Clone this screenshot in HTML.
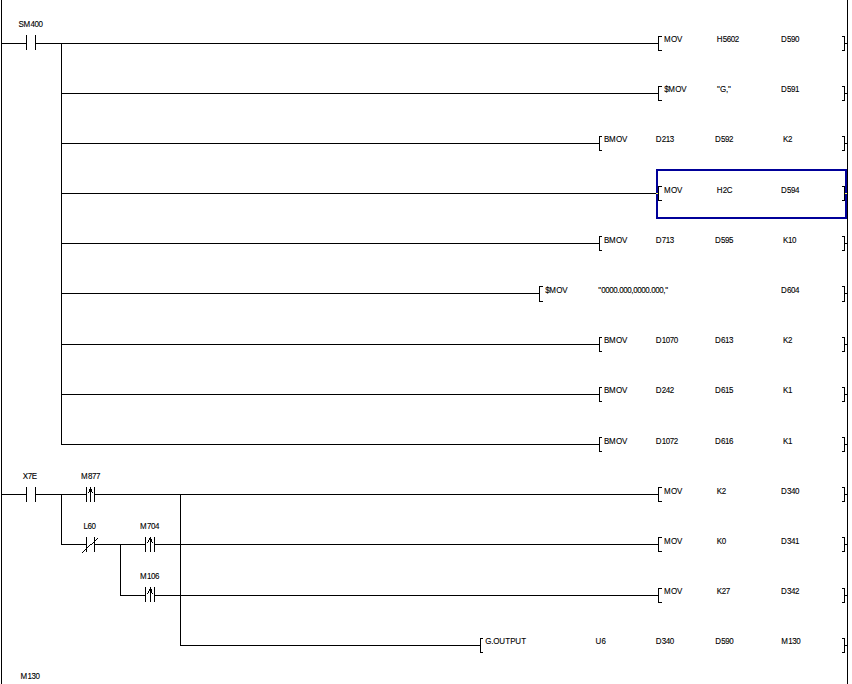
<!DOCTYPE html>
<html lang="en"><head><meta charset="utf-8"><title>Ladder</title>
<style>
html,body{margin:0;padding:0;background:#fff;}
body{width:852px;height:684px;overflow:hidden;}
svg{display:block;}
text{font-family:"Liberation Sans",sans-serif;font-size:8px;fill:#000;stroke:#000;stroke-width:0.1px;}
</style></head><body>
<svg width="852" height="684" viewBox="0 0 852 684">
<g shape-rendering="crispEdges">
<rect x="1" y="0" width="1" height="684" fill="#000"/>
<rect x="847" y="0" width="1" height="684" fill="#000"/>
<rect x="658" y="36" width="1" height="15" fill="#000"/>
<rect x="658" y="36" width="4" height="1" fill="#000"/>
<rect x="658" y="50" width="4" height="1" fill="#000"/>
<rect x="844" y="36" width="1" height="15" fill="#000"/>
<rect x="842" y="36" width="3" height="1" fill="#000"/>
<rect x="842" y="50" width="3" height="1" fill="#000"/>
<rect x="845" y="43" width="2" height="1" fill="#000"/>
<rect x="658" y="86" width="1" height="15" fill="#000"/>
<rect x="658" y="86" width="4" height="1" fill="#000"/>
<rect x="658" y="100" width="4" height="1" fill="#000"/>
<rect x="844" y="86" width="1" height="15" fill="#000"/>
<rect x="842" y="86" width="3" height="1" fill="#000"/>
<rect x="842" y="100" width="3" height="1" fill="#000"/>
<rect x="845" y="93" width="2" height="1" fill="#000"/>
<rect x="599" y="136" width="1" height="15" fill="#000"/>
<rect x="599" y="136" width="3" height="1" fill="#000"/>
<rect x="599" y="150" width="3" height="1" fill="#000"/>
<rect x="844" y="136" width="1" height="15" fill="#000"/>
<rect x="842" y="136" width="3" height="1" fill="#000"/>
<rect x="842" y="150" width="3" height="1" fill="#000"/>
<rect x="845" y="143" width="2" height="1" fill="#000"/>
<rect x="658" y="186" width="1" height="15" fill="#000"/>
<rect x="658" y="186" width="4" height="1" fill="#000"/>
<rect x="658" y="200" width="4" height="1" fill="#000"/>
<rect x="844" y="186" width="1" height="15" fill="#000"/>
<rect x="842" y="186" width="3" height="1" fill="#000"/>
<rect x="842" y="200" width="3" height="1" fill="#000"/>
<rect x="845" y="193" width="2" height="1" fill="#000"/>
<rect x="599" y="236" width="1" height="15" fill="#000"/>
<rect x="599" y="236" width="3" height="1" fill="#000"/>
<rect x="599" y="250" width="3" height="1" fill="#000"/>
<rect x="844" y="236" width="1" height="15" fill="#000"/>
<rect x="842" y="236" width="3" height="1" fill="#000"/>
<rect x="842" y="250" width="3" height="1" fill="#000"/>
<rect x="845" y="243" width="2" height="1" fill="#000"/>
<rect x="539" y="286" width="1" height="16" fill="#000"/>
<rect x="539" y="286" width="4" height="1" fill="#000"/>
<rect x="539" y="301" width="4" height="1" fill="#000"/>
<rect x="844" y="286" width="1" height="16" fill="#000"/>
<rect x="842" y="286" width="3" height="1" fill="#000"/>
<rect x="842" y="301" width="3" height="1" fill="#000"/>
<rect x="845" y="293" width="2" height="1" fill="#000"/>
<rect x="599" y="337" width="1" height="15" fill="#000"/>
<rect x="599" y="337" width="3" height="1" fill="#000"/>
<rect x="599" y="351" width="3" height="1" fill="#000"/>
<rect x="844" y="337" width="1" height="15" fill="#000"/>
<rect x="842" y="337" width="3" height="1" fill="#000"/>
<rect x="842" y="351" width="3" height="1" fill="#000"/>
<rect x="845" y="344" width="2" height="1" fill="#000"/>
<rect x="599" y="387" width="1" height="15" fill="#000"/>
<rect x="599" y="387" width="3" height="1" fill="#000"/>
<rect x="599" y="401" width="3" height="1" fill="#000"/>
<rect x="844" y="387" width="1" height="15" fill="#000"/>
<rect x="842" y="387" width="3" height="1" fill="#000"/>
<rect x="842" y="401" width="3" height="1" fill="#000"/>
<rect x="845" y="394" width="2" height="1" fill="#000"/>
<rect x="599" y="437" width="1" height="15" fill="#000"/>
<rect x="599" y="437" width="3" height="1" fill="#000"/>
<rect x="599" y="451" width="3" height="1" fill="#000"/>
<rect x="844" y="437" width="1" height="15" fill="#000"/>
<rect x="842" y="437" width="3" height="1" fill="#000"/>
<rect x="842" y="451" width="3" height="1" fill="#000"/>
<rect x="845" y="444" width="2" height="1" fill="#000"/>
<rect x="658" y="487" width="1" height="15" fill="#000"/>
<rect x="658" y="487" width="4" height="1" fill="#000"/>
<rect x="658" y="501" width="4" height="1" fill="#000"/>
<rect x="844" y="487" width="1" height="15" fill="#000"/>
<rect x="842" y="487" width="3" height="1" fill="#000"/>
<rect x="842" y="501" width="3" height="1" fill="#000"/>
<rect x="845" y="494" width="2" height="1" fill="#000"/>
<rect x="658" y="537" width="1" height="15" fill="#000"/>
<rect x="658" y="537" width="4" height="1" fill="#000"/>
<rect x="658" y="551" width="4" height="1" fill="#000"/>
<rect x="844" y="537" width="1" height="15" fill="#000"/>
<rect x="842" y="537" width="3" height="1" fill="#000"/>
<rect x="842" y="551" width="3" height="1" fill="#000"/>
<rect x="845" y="544" width="2" height="1" fill="#000"/>
<rect x="658" y="588" width="1" height="15" fill="#000"/>
<rect x="658" y="588" width="4" height="1" fill="#000"/>
<rect x="658" y="602" width="4" height="1" fill="#000"/>
<rect x="844" y="588" width="1" height="15" fill="#000"/>
<rect x="842" y="588" width="3" height="1" fill="#000"/>
<rect x="842" y="602" width="3" height="1" fill="#000"/>
<rect x="845" y="595" width="2" height="1" fill="#000"/>
<rect x="480" y="638" width="1" height="15" fill="#000"/>
<rect x="480" y="638" width="3" height="1" fill="#000"/>
<rect x="480" y="652" width="3" height="1" fill="#000"/>
<rect x="844" y="638" width="1" height="15" fill="#000"/>
<rect x="842" y="638" width="3" height="1" fill="#000"/>
<rect x="842" y="652" width="3" height="1" fill="#000"/>
<rect x="845" y="645" width="2" height="1" fill="#000"/>
<rect x="2" y="43" width="24" height="1" fill="#000"/>
<rect x="26" y="35" width="1" height="15" fill="#000"/>
<rect x="35" y="35" width="1" height="15" fill="#000"/>
<rect x="36" y="43" width="622" height="1" fill="#000"/>
<rect x="61" y="43" width="1" height="402" fill="#000"/>
<rect x="61" y="93" width="597" height="1" fill="#000"/>
<rect x="61" y="193" width="597" height="1" fill="#000"/>
<rect x="61" y="143" width="538" height="1" fill="#000"/>
<rect x="61" y="243" width="538" height="1" fill="#000"/>
<rect x="61" y="344" width="538" height="1" fill="#000"/>
<rect x="61" y="394" width="538" height="1" fill="#000"/>
<rect x="61" y="444" width="538" height="1" fill="#000"/>
<rect x="61" y="293" width="478" height="1" fill="#000"/>
<rect x="2" y="494" width="24" height="1" fill="#000"/>
<rect x="26" y="487" width="1" height="15" fill="#000"/>
<rect x="35" y="487" width="1" height="15" fill="#000"/>
<rect x="36" y="494" width="50" height="1" fill="#000"/>
<rect x="86" y="487" width="1" height="15" fill="#000"/>
<rect x="94" y="487" width="1" height="15" fill="#000"/>
<rect x="90" y="487" width="1" height="15" fill="#000"/>
<rect x="95" y="494" width="563" height="1" fill="#000"/>
<rect x="89" y="489" width="1" height="1" fill="#000"/>
<rect x="91" y="489" width="1" height="1" fill="#000"/>
<rect x="89" y="490" width="1" height="1" fill="#000"/>
<rect x="91" y="490" width="1" height="1" fill="#000"/>
<rect x="89" y="491" width="1" height="1" fill="#000"/>
<rect x="91" y="491" width="1" height="1" fill="#000"/>
<rect x="88" y="492" width="1" height="1" fill="#000"/>
<rect x="92" y="492" width="1" height="1" fill="#000"/>
<rect x="61" y="494" width="1" height="51" fill="#000"/>
<rect x="180" y="494" width="1" height="152" fill="#000"/>
<rect x="61" y="544" width="25" height="1" fill="#000"/>
<rect x="86" y="537" width="1" height="15" fill="#000"/>
<rect x="94" y="537" width="1" height="15" fill="#000"/>
<rect x="95" y="544" width="50" height="1" fill="#000"/>
<rect x="145" y="537" width="1" height="15" fill="#000"/>
<rect x="154" y="537" width="1" height="15" fill="#000"/>
<rect x="150" y="537" width="1" height="15" fill="#000"/>
<rect x="155" y="544" width="503" height="1" fill="#000"/>
<rect x="82" y="552" width="1" height="1" fill="#000"/>
<rect x="83" y="551" width="1" height="1" fill="#000"/>
<rect x="84" y="550" width="1" height="1" fill="#000"/>
<rect x="85" y="549" width="1" height="1" fill="#000"/>
<rect x="86" y="548" width="1" height="1" fill="#000"/>
<rect x="87" y="547" width="1" height="1" fill="#000"/>
<rect x="88" y="546" width="1" height="1" fill="#000"/>
<rect x="89" y="545" width="1" height="1" fill="#000"/>
<rect x="90" y="544" width="1" height="1" fill="#000"/>
<rect x="91" y="544" width="1" height="1" fill="#000"/>
<rect x="92" y="543" width="1" height="1" fill="#000"/>
<rect x="93" y="542" width="1" height="1" fill="#000"/>
<rect x="94" y="541" width="1" height="1" fill="#000"/>
<rect x="95" y="540" width="1" height="1" fill="#000"/>
<rect x="96" y="539" width="1" height="1" fill="#000"/>
<rect x="97" y="538" width="1" height="1" fill="#000"/>
<rect x="149" y="538" width="1" height="1" fill="#000"/>
<rect x="149" y="539" width="1" height="1" fill="#000"/>
<rect x="151" y="539" width="1" height="1" fill="#000"/>
<rect x="148" y="540" width="1" height="1" fill="#000"/>
<rect x="151" y="540" width="1" height="1" fill="#000"/>
<rect x="148" y="541" width="1" height="1" fill="#000"/>
<rect x="151" y="541" width="1" height="1" fill="#000"/>
<rect x="147" y="542" width="1" height="1" fill="#000"/>
<rect x="152" y="542" width="1" height="1" fill="#000"/>
<rect x="120" y="544" width="1" height="52" fill="#000"/>
<rect x="120" y="595" width="25" height="1" fill="#000"/>
<rect x="145" y="587" width="1" height="15" fill="#000"/>
<rect x="154" y="587" width="1" height="15" fill="#000"/>
<rect x="150" y="587" width="1" height="15" fill="#000"/>
<rect x="155" y="595" width="503" height="1" fill="#000"/>
<rect x="149" y="589" width="1" height="1" fill="#000"/>
<rect x="151" y="589" width="1" height="1" fill="#000"/>
<rect x="149" y="590" width="1" height="1" fill="#000"/>
<rect x="151" y="590" width="1" height="1" fill="#000"/>
<rect x="148" y="591" width="1" height="1" fill="#000"/>
<rect x="151" y="591" width="1" height="1" fill="#000"/>
<rect x="148" y="592" width="1" height="1" fill="#000"/>
<rect x="151" y="592" width="1" height="1" fill="#000"/>
<rect x="147" y="593" width="1" height="1" fill="#000"/>
<rect x="152" y="593" width="1" height="1" fill="#000"/>
<rect x="180" y="645" width="300" height="1" fill="#000"/>
<rect x="656" y="169" width="191" height="2" fill="#000099"/>
<rect x="656" y="217" width="191" height="2" fill="#000099"/>
<rect x="656" y="169" width="2" height="50" fill="#000099"/>
<rect x="845" y="169" width="2" height="50" fill="#000099"/>
<rect x="656" y="193" width="2" height="1" fill="#ffff66"/>
<rect x="845" y="193" width="2" height="1" fill="#ffff66"/>
</g>
<g>
<text transform="translate(0,27) scale(1,1.09)" x="18.4 23.4 30.4 34.4 38.4" y="0">SM400</text>
<text transform="translate(0,479) scale(1,1.09)" x="22.8 27.8 31.8" y="0">X7E</text>
<text transform="translate(0,479) scale(1,1.09)" x="81.05 88.05 92.05 96.05" y="0">M877</text>
<text transform="translate(0,529) scale(1,1.09)" x="83.4 87.4 91.4" y="0">L60</text>
<text transform="translate(0,529) scale(1,1.09)" x="140.05 147.05 151.05 155.05" y="0">M704</text>
<text transform="translate(0,579) scale(1,1.09)" x="139.95 146.95 150.95 154.95" y="0">M106</text>
<text transform="translate(0,679) scale(1,1.09)" x="20.4 27.4 31.4 35.4" y="0">M130</text>
<text transform="translate(0,42) scale(1,1.09)" x="664.1 671.1 677.1" y="0">MOV</text>
<text transform="translate(0,42) scale(1,1.09)" x="716.85 722.85 726.85 730.85 734.85" y="0">H5602</text>
<text transform="translate(0,42) scale(1,1.09)" x="781.05 787.05 791.05 795.05" y="0">D590</text>
<text transform="translate(0,92) scale(1,1.09)" x="664.3 668.3 675.3 681.3" y="0">$MOV</text>
<text transform="translate(0,92) scale(1,1.09)" x="717.1 720.1 726.1 728.1" y="0">"G,"</text>
<text transform="translate(0,92) scale(1,1.09)" x="781.05 787.05 791.05 795.05" y="0">D591</text>
<text transform="translate(0,142) scale(1,1.09)" x="604.1 609.1 616.1 622.1" y="0">BMOV</text>
<text transform="translate(0,142) scale(1,1.09)" x="655.75 661.75 665.75 669.75" y="0">D213</text>
<text transform="translate(0,142) scale(1,1.09)" x="714.95 720.95 724.95 728.95" y="0">D592</text>
<text transform="translate(0,142) scale(1,1.09)" x="782.9 787.9" y="0">K2</text>
<text transform="translate(0,193) scale(1,1.09)" x="664.1 671.1 677.1" y="0">MOV</text>
<text transform="translate(0,193) scale(1,1.09)" x="716.85 722.85 726.85" y="0">H2C</text>
<text transform="translate(0,193) scale(1,1.09)" x="781.05 787.05 791.05 795.05" y="0">D594</text>
<text transform="translate(0,243) scale(1,1.09)" x="604.1 609.1 616.1 622.1" y="0">BMOV</text>
<text transform="translate(0,243) scale(1,1.09)" x="655.75 661.75 665.75 669.75" y="0">D713</text>
<text transform="translate(0,243) scale(1,1.09)" x="714.95 720.95 724.95 728.95" y="0">D595</text>
<text transform="translate(0,243) scale(1,1.09)" x="782.9 787.9 791.9" y="0">K10</text>
<text transform="translate(0,293) scale(1,1.09)" x="545.15 549.15 556.15 562.15" y="0">$MOV</text>
<text transform="translate(0,293) scale(1,1.09)" x="598.25 601.25 605.25 609.25 613.25 617.25 619.25 623.25 627.25 631.25 633.25 637.25 641.25 645.25 649.25 651.25 655.25 659.25 663.25 665.25" y="0">"0000.000,0000.000,"</text>
<text transform="translate(0,293) scale(1,1.09)" x="781.05 787.05 791.05 795.05" y="0">D604</text>
<text transform="translate(0,343) scale(1,1.09)" x="604.1 609.1 616.1 622.1" y="0">BMOV</text>
<text transform="translate(0,343) scale(1,1.09)" x="655.75 661.75 665.75 669.75 673.75" y="0">D1070</text>
<text transform="translate(0,343) scale(1,1.09)" x="714.95 720.95 724.95 728.95" y="0">D613</text>
<text transform="translate(0,343) scale(1,1.09)" x="782.9 787.9" y="0">K2</text>
<text transform="translate(0,393) scale(1,1.09)" x="604.1 609.1 616.1 622.1" y="0">BMOV</text>
<text transform="translate(0,393) scale(1,1.09)" x="655.75 661.75 665.75 669.75" y="0">D242</text>
<text transform="translate(0,393) scale(1,1.09)" x="714.95 720.95 724.95 728.95" y="0">D615</text>
<text transform="translate(0,393) scale(1,1.09)" x="782.9 787.9" y="0">K1</text>
<text transform="translate(0,444) scale(1,1.09)" x="604.1 609.1 616.1 622.1" y="0">BMOV</text>
<text transform="translate(0,444) scale(1,1.09)" x="655.75 661.75 665.75 669.75 673.75" y="0">D1072</text>
<text transform="translate(0,444) scale(1,1.09)" x="714.95 720.95 724.95 728.95" y="0">D616</text>
<text transform="translate(0,444) scale(1,1.09)" x="782.9 787.9" y="0">K1</text>
<text transform="translate(0,494) scale(1,1.09)" x="664.1 671.1 677.1" y="0">MOV</text>
<text transform="translate(0,494) scale(1,1.09)" x="716.85 721.85" y="0">K2</text>
<text transform="translate(0,494) scale(1,1.09)" x="781.05 787.05 791.05 795.05" y="0">D340</text>
<text transform="translate(0,544) scale(1,1.09)" x="664.1 671.1 677.1" y="0">MOV</text>
<text transform="translate(0,544) scale(1,1.09)" x="716.85 721.85" y="0">K0</text>
<text transform="translate(0,544) scale(1,1.09)" x="781.05 787.05 791.05 795.05" y="0">D341</text>
<text transform="translate(0,594) scale(1,1.09)" x="664.1 671.1 677.1" y="0">MOV</text>
<text transform="translate(0,594) scale(1,1.09)" x="716.85 721.85 725.85" y="0">K27</text>
<text transform="translate(0,594) scale(1,1.09)" x="781.05 787.05 791.05 795.05" y="0">D342</text>
<text transform="translate(0,644) scale(1,1.09)" x="485.15 491.15 493.15 499.15 505.15 510.15 515.15 521.15" y="0">G.OUTPUT</text>
<text transform="translate(0,644) scale(1,1.09)" x="595.45 601.45" y="0">U6</text>
<text transform="translate(0,644) scale(1,1.09)" x="655.75 661.75 665.75 669.75" y="0">D340</text>
<text transform="translate(0,644) scale(1,1.09)" x="715.35 721.35 725.35 729.35" y="0">D590</text>
<text transform="translate(0,644) scale(1,1.09)" x="781.3 788.3 792.3 796.3" y="0">M130</text>
</g>
</svg>
</body></html>
